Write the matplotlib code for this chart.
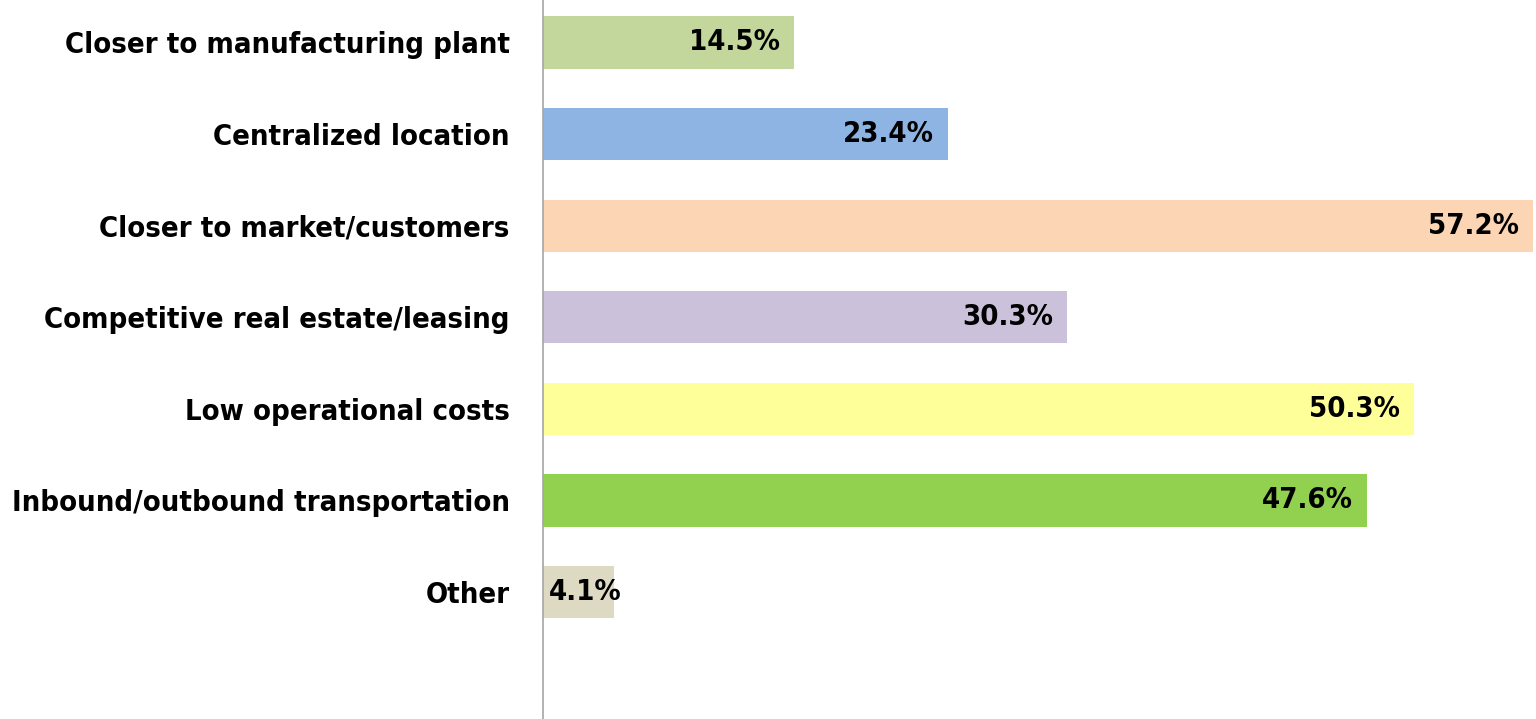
import matplotlib
matplotlib.use("Agg")
import matplotlib.pyplot as plt
from matplotlib import font_manager

categories = ["Closer to manufacturing plant", "Centralized location", "Closer to market/customers",
              "Competitive real estate/leasing", "Low operational costs",
              "Inbound/outbound transportation", "Other"]
values = [14.5, 23.4, 57.2, 30.3, 50.3, 47.6, 4.1]
colors = ["#C3D69B", "#8EB4E3", "#FCD5B5", "#CCC1DA", "#FFFF99", "#92D050", "#DDD9C3"]

fp = font_manager.FontProperties(family="DejaVu Sans", weight="bold", stretch="condensed", size=21)

fig = plt.figure(figsize=(15.36, 7.19), dpi=100)
ax = fig.add_axes([543/1536, 0, 1 - 543/1536, 1])
y = list(range(len(categories)))
ax.barh(y, values, height=0.57, color=colors)
ax.set_xlim(0, 57.37)
ax.set_ylim(7.386, -0.464)
ax.set_yticks(y)
ax.set_yticklabels(categories, fontproperties=fp)
ax.tick_params(axis="y", length=0, pad=24)
ax.set_xticks([])
for s in ["top", "right", "bottom"]:
    ax.spines[s].set_visible(False)
ax.spines["left"].set_color("#A6A6A6")
ax.spines["left"].set_linewidth(1.2)
for yi, v in zip(y, values):
    if v < 8:
        ax.annotate(f"{v}%", xy=(0, yi), xytext=(4, 0), textcoords="offset points",
                    ha="left", va="center", fontproperties=fp)
    else:
        ax.annotate(f"{v}%", xy=(v, yi), xytext=(-10, 0), textcoords="offset points",
                    ha="right", va="center", fontproperties=fp)
fig.savefig("out.png", dpi=100)
